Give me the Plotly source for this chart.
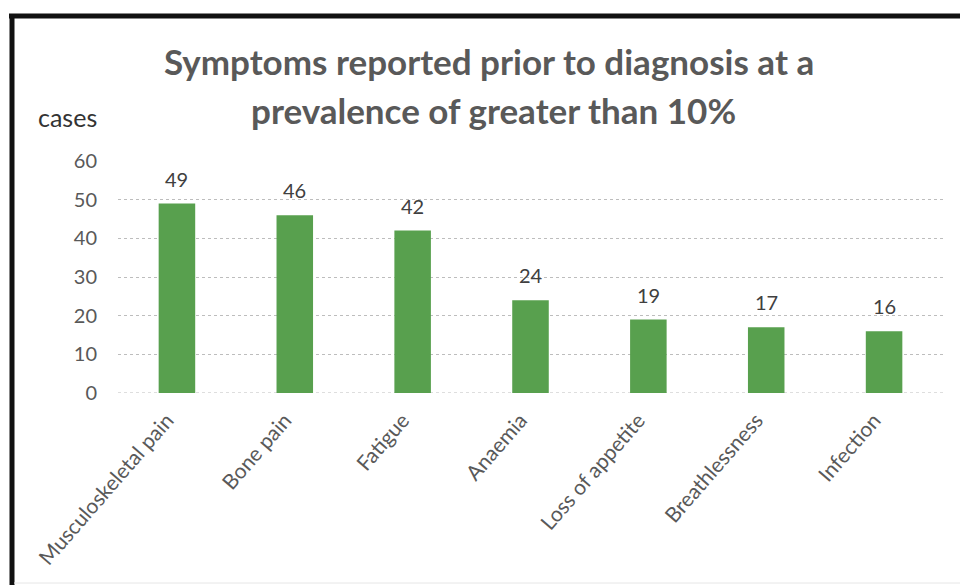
import plotly.graph_objects as go

categories = ["Musculoskeletal pain", "Bone pain", "Fatigue", "Anaemia",
              "Loss of appetite", "Breathlessness", "Infection"]
cases = [49, 46, 42, 24, 19, 17, 16]
y_ticks = [0, 10, 20, 30, 40, 50, 60]

W, H = 960, 585
L, R, T, B = 118, 17, 161, 192
pw, ph = W - L - R, H - T - B

def px(x):
    return (x - L) / pw

def py(y):
    return (H - B - y) / ph

FONT = "Lato, sans-serif"

fig = go.Figure()
fig.add_trace(go.Bar(
    x=categories, y=cases, width=0.31,
    marker=dict(color="#58A04E", line=dict(width=0)),
    hoverinfo="skip",
))

annotations = []
for c, v in zip(categories, cases):
    annotations.append(dict(x=c, y=v, xref="x", yref="y", text=str(v),
                            showarrow=False, yanchor="bottom", yshift=11,
                            font=dict(family=FONT, size=20, color="#404040")))

annotations.append(dict(x=px(489), y=py(61), xref="paper", yref="paper",
                        text="<b>Symptoms reported prior to diagnosis at a</b>",
                        showarrow=False, xanchor="center", yanchor="middle",
                        font=dict(family=FONT, size=35, color="#595959")))
annotations.append(dict(x=px(493), y=py(110), xref="paper", yref="paper",
                        text="<b>prevalence of greater than 10%</b>",
                        showarrow=False, xanchor="center", yanchor="middle",
                        font=dict(family=FONT, size=35, color="#595959")))
annotations.append(dict(x=px(36), y=py(117), xref="paper", yref="paper",
                        text="cases", showarrow=False, xanchor="left", yanchor="middle",
                        font=dict(family=FONT, size=25, color="#333333")))

shapes = [
    dict(type="line", xref="paper", yref="paper", x0=px(12), x1=px(12), y0=py(14), y1=py(590),
         line=dict(color="#111111", width=5)),
    dict(type="line", xref="paper", yref="paper", x0=px(9), x1=px(965), y0=py(16), y1=py(16),
         line=dict(color="#111111", width=5)),
    dict(type="line", xref="paper", yref="paper", x0=px(14), x1=px(960), y0=py(583), y1=py(583),
         line=dict(color="#E6E6E6", width=1)),
    dict(type="line", xref="paper", yref="y", x0=0, x1=1, y0=0, y1=0, layer="below",
         line=dict(color="#BDBDBD", width=1, dash="dot")),
]

fig.update_layout(
    width=W, height=H,
    margin=dict(l=L, r=R, t=T, b=B, pad=0),
    paper_bgcolor="white", plot_bgcolor="white",
    showlegend=False,
    annotations=annotations,
    shapes=shapes,
    bargap=0.69,
    font=dict(family=FONT),
)
fig.update_xaxes(
    tickangle=-49, showgrid=False, showline=False, zeroline=False,
    tickfont=dict(family=FONT, size=21, color="#595959"),
    ticks="", ticklabelstandoff=10, ticklabelshift=-10,
)
fig.update_yaxes(
    range=[0, 60], tickvals=y_ticks, showline=False, zeroline=False,
    showgrid=True, gridcolor="#BDBDBD", gridwidth=1, griddash="dot",
    tickfont=dict(family=FONT, size=20, color="#595959"),
    ticks="", ticklabelstandoff=20,
)

fig.write_html("out.html")
